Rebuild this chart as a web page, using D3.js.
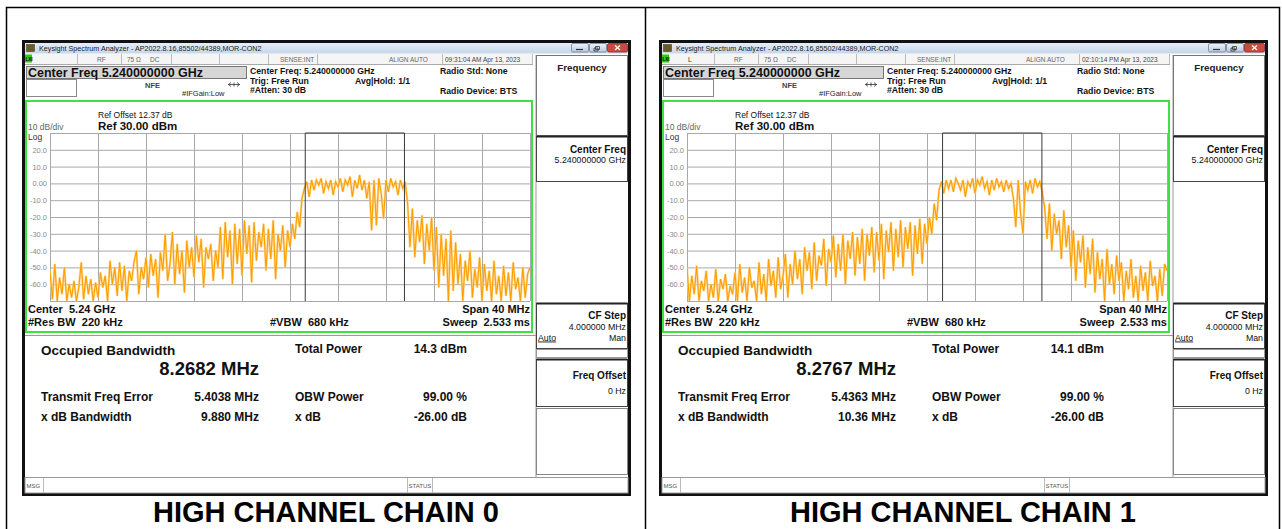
<!DOCTYPE html>
<html>
<head>
<meta charset="utf-8">
<script src="https://cdn.jsdelivr.net/npm/d3@7"></script>
<style>
  body { margin: 0; background: #fff; }
  svg { display: block; font-family: "Liberation Sans", Arial, sans-serif; }
  text { white-space: pre; }
</style>
</head>
<body>
<svg id="chart" width="1282" height="529"></svg>
<script>
/* global d3 */

const centerMHz = 5240;
const spanMHz = 40;
const chainTitles = ["HIGH CHANNEL CHAIN 0", "HIGH CHANNEL CHAIN 1"];
const timeStamps = ["09:31:04 AM Apr 13, 2023", "02:10:14 PM Apr 13, 2023"];
const statusFlags = ["", "L"];
const occupiedBw = ["8.2682", "8.2767"];      // MHz
const totalPower = ["14.3", "14.1"];          // dBm
const txFreqError = ["5.4038", "5.4363"];     // MHz
const xdbBandwidth = ["9.880", "10.36"];      // MHz
const yTickValues = [30, 20, 10, 0, -10, -20, -30, -40, -50, -60, -70];
const yTickLabels = ["", "20.0", "10.0", "0.00", "-10.0", "-20.0", "-30.0", "-40.0", "-50.0", "-60.0", ""];

// trace levels in dBm, 201 points across the 40 MHz span
const traceChain0 = [
  -52,-69,-48,-70,-56,-66,-50,-70,-60,-68,
  -58,-70,-62,-47,-69,-55,-66,-57,-70,-59,
  -68,-53,-62,-55,-70,-46,-60,-50,-67,-47,
  -64,-49,-70,-52,-58,-47,-40,-66,-50,-57,
  -44,-62,-42,-55,-45,-68,-41,-52,-30,-58,
  -48,-29,-60,-36,-54,-40,-65,-34,-50,-38,
  -56,-31,-47,-33,-62,-38,-45,-36,-58,-40,
  -50,-26,-57,-23,-44,-28,-60,-24,-48,-27,
  -55,-22,-42,-25,-59,-23,-46,-29,-38,-24,
  -52,-27,-45,-22,-57,-30,-40,-25,-50,-28,
  -38,-24,-33,-17,-26,-9,-3,1,-8,2,
  -4,2,-1,3,-6,1,-3,2,-7,1,
  -2,3,-5,2,-1,4,-8,2,-3,5,
  -4,2,-9,1,-28,2,-25,3,-6,-21,
  2,-5,3,-2,1,-7,2,-3,1,-12,
  -38,-15,-44,-22,-35,-19,-48,-24,-40,-20,
  -52,-26,-62,-30,-55,-33,-70,-28,-64,-35,
  -60,-42,-70,-46,-58,-40,-68,-51,-62,-44,
  -70,-48,-64,-52,-70,-46,-66,-55,-70,-49,
  -67,-53,-70,-47,-63,-56,-70,-50,-68,-54,
  -50
];
const traceChain1 = [
  -50,-70,-55,-66,-49,-70,-58,-64,-52,-70,
  -60,-68,-51,-70,-57,-63,-54,-70,-61,-66,
  -53,-70,-48,-65,-56,-70,-50,-62,-58,-70,
  -47,-66,-54,-70,-45,-61,-52,-68,-44,-63,
  -55,-42,-68,-48,-60,-40,-57,-45,-66,-38,
  -52,-41,-63,-35,-58,-43,-49,-33,-61,-39,
  -47,-31,-56,-36,-52,-30,-60,-34,-45,-29,
  -55,-32,-48,-27,-58,-30,-43,-26,-53,-29,
  -46,-24,-57,-28,-41,-23,-52,-27,-44,-22,
  -50,-26,-39,-23,-55,-25,-42,-21,-48,-24,
  -36,-20,-30,-12,-22,-4,1,-6,2,-3,
  2,-5,3,0,-4,2,-8,1,-2,3,
  -6,2,-1,4,-3,1,-7,2,-4,3,
  -2,1,-5,2,-3,0,-9,-26,2,-18,
  -30,1,-4,2,-6,3,-2,1,-5,-14,
  -33,-12,-40,-18,-30,-22,-45,-16,-38,-25,
  -50,-28,-58,-34,-47,-31,-62,-38,-54,-33,
  -65,-41,-57,-45,-70,-39,-60,-48,-66,-43,
  -58,-47,-70,-52,-63,-45,-68,-55,-70,-49,
  -64,-53,-70,-46,-61,-55,-70,-51,-67,-48,
  -52
];
const traces = [traceChain0, traceChain1];

const svg = d3.select("#chart");

// page table lines
svg.append("path")
  .attr("d", "M6.5,529V7.5H1279.5V529M645.5,7.5V529")
  .attr("fill", "none").attr("stroke", "#000").attr("stroke-width", 1.5);

const defs = svg.append("defs");
let tg = defs.append("linearGradient").attr("id", "titleGrad").attr("x1", 0).attr("y1", 0).attr("x2", 0).attr("y2", 1);
tg.append("stop").attr("offset", "0%").attr("stop-color", "#e6eef8");
tg.append("stop").attr("offset", "100%").attr("stop-color", "#c6d5ea");
let bg = defs.append("linearGradient").attr("id", "btnGrad").attr("x1", 0).attr("y1", 0).attr("x2", 0).attr("y2", 1);
bg.append("stop").attr("offset", "0%").attr("stop-color", "#eef3fa");
bg.append("stop").attr("offset", "100%").attr("stop-color", "#b9c9e0");

const x = d3.scaleLinear().domain([centerMHz - spanMHz / 2, centerMHz + spanMHz / 2]).range([50, 530]);
const y = d3.scaleLinear().domain([-70, 30]).range([301, 133]);

let label = (g, s, px, py, size, weight, fill, anchor) => g.append("text")
  .attr("x", px).attr("y", py)
  .attr("font-size", size)
  .attr("font-weight", weight || "normal")
  .attr("fill", fill || "#111")
  .attr("text-anchor", anchor || "start")
  .text(s);

let drawWindow = (k) => {
  let g = svg.append("g").attr("transform", `translate(${k * 637},0)`);

  // window body + title bar
  g.append("rect").attr("x", 23.5).attr("y", 41.5).attr("width", 606).attr("height", 453)
    .attr("fill", "#fff").attr("stroke", "#111").attr("stroke-width", 3);
  g.append("rect").attr("x", 25).attr("y", 43).attr("width", 603).attr("height", 10.5).attr("fill", "url(#titleGrad)");
  g.append("rect").attr("x", 26.5).attr("y", 44.5).attr("width", 8).attr("height", 7).attr("fill", "#6a5a24").attr("stroke", "#3a3010").attr("stroke-width", 0.5);
  label(g, "Keysight Spectrum Analyzer - AP2022.8.16,85502/44389,MOR-CON2", 39, 50.8, 7.2, "normal", "#222");
  // window buttons
  [571, 589].forEach(bx => {
    g.append("rect").attr("x", bx + 0.5).attr("y", 43.5).attr("width", 17).attr("height", 8.5).attr("rx", 1.5)
      .attr("fill", "url(#btnGrad)").attr("stroke", "#6d7d96").attr("stroke-width", 0.8);
  });
  g.append("path").attr("d", "M576,49.5H583").attr("stroke", "#333").attr("stroke-width", 1.2);
  g.append("path").attr("d", "M595.5,46.5h4v3h-4zM594,48h4v3h-4z").attr("fill", "none").attr("stroke", "#333").attr("stroke-width", 0.8);
  g.append("rect").attr("x", 607.5).attr("y", 43.5).attr("width", 20).attr("height", 8.5).attr("rx", 1.5)
    .attr("fill", "#c94a3e").attr("stroke", "#8a2b22").attr("stroke-width", 0.8);
  g.append("path").attr("d", "M615,45.5l5,4.5M620,45.5l-5,4.5").attr("stroke", "#fff").attr("stroke-width", 1.3);

  // status row
  g.append("rect").attr("x", 25).attr("y", 54).attr("width", 508).attr("height", 10).attr("fill", "#f5f5f5");
  g.append("path").attr("d", "M25,64.5H533").attr("stroke", "#aaa");
  [77, 121, 171, 219, 268, 317, 442, 532].forEach(sx => {
    g.append("path").attr("d", `M${sx + 0.5},54V64`).attr("stroke", "#bbb");
  });
  g.append("rect").attr("x", 25).attr("y", 54.5).attr("width", 7).attr("height", 8).attr("fill", "#33cc00");
  label(g, "LXI", 25.4, 61, 4.6, "bold", "#000");
  label(g, statusFlags[k], 51, 61.5, 7, "normal", "#8a1a1a");
  label(g, "RF", 97, 61.5, 6.5, "normal", "#666");
  label(g, "75 Ω", 127, 61.5, 6.5, "normal", "#666");
  label(g, "DC", 150, 61.5, 6.5, "normal", "#666");
  label(g, "SENSE:INT", 280, 61.5, 6.5, "normal", "#666");
  label(g, "ALIGN AUTO", 389, 61.5, 6.5, "normal", "#666");
  label(g, timeStamps[k], 445, 61.5, 6.5, "normal", "#444");

  // center freq banner
  g.append("rect").attr("x", 26.5).attr("y", 66.5).attr("width", 220).attr("height", 12)
    .attr("fill", "#d6d6d6").attr("stroke", "#777");
  label(g, "Center Freq 5.240000000 GHz", 28, 76.8, 12.5, "bold", "#111");
  g.append("rect").attr("x", 26.5).attr("y", 79.5).attr("width", 50).attr("height", 17)
    .attr("fill", "#fff").attr("stroke", "#888");
  label(g, "NFE", 145, 87.5, 7.5, "bold", "#444");
  label(g, "#IFGain:Low", 182, 96, 7.5, "normal", "#222");
  g.append("path").attr("d", "M228,84.5h12M231,82.5l-2.5,2 2.5,2M237,82.5l2.5,2-2.5,2M234,82.5v4")
    .attr("fill", "none").attr("stroke", "#333").attr("stroke-width", 0.8);

  label(g, "Center Freq: 5.240000000 GHz", 250, 73.5, 8.7, "bold");
  label(g, "Trig: Free Run", 250, 83.5, 8.7, "bold");
  label(g, "#Atten: 30 dB", 250, 93, 8.7, "bold");
  label(g, "Avg|Hold: 1/1", 355, 83.5, 8.7, "bold");
  label(g, "Radio Std: None", 440, 74, 8.7, "bold");
  label(g, "Radio Device: BTS", 440, 93.5, 8.7, "bold");

  // plot frame
  g.append("rect").attr("x", 26).attr("y", 101).attr("width", 506).attr("height", 231)
    .attr("fill", "#fff").attr("stroke", "#3ee23e").attr("stroke-width", 2);

  // grid through axes
  let yAxis = g.append("g").attr("transform", "translate(50,0)")
    .call(d3.axisLeft(y).tickValues(yTickValues).tickSize(-480).tickPadding(3)
      .tickFormat((v, i) => yTickLabels[i]));
  let xAxis = g.append("g").attr("transform", "translate(0,301)")
    .call(d3.axisBottom(x).tickValues(d3.range(centerMHz - spanMHz / 2, centerMHz + spanMHz / 2 + 1, 4))
      .tickSize(-168).tickFormat(""));
  [yAxis, xAxis].forEach(a => {
    a.select(".domain").remove();
    a.selectAll("line").attr("stroke", "#a9a9a9");
  });
  yAxis.selectAll("text").attr("fill", "#8a8a8a").attr("font-size", 7.5)
    .attr("font-family", "Liberation Sans, Arial, sans-serif");

  // trace: soft halo underneath, then the trace itself
  g.append("clipPath").attr("id", "plotClip" + k)
    .append("rect").attr("x", 50).attr("y", 132).attr("width", 480).attr("height", 170);
  let data = traces[k];
  let step = spanMHz / (data.length - 1);
  let line = d3.line()
    .x((d, i) => x(centerMHz - spanMHz / 2 + i * step))
    .y(d => y(d));
  g.append("path").datum(data)
    .attr("clip-path", `url(#plotClip${k})`)
    .attr("d", line)
    .attr("fill", "none").attr("stroke", "#ffd48e").attr("stroke-width", 2.4)
    .attr("stroke-opacity", 0.85);
  g.append("path").datum(data)
    .attr("clip-path", `url(#plotClip${k})`)
    .attr("d", line)
    .attr("fill", "none").attr("stroke", "#ffa000").attr("stroke-width", 1.1);

  // occupied bandwidth markers
  let mid = centerMHz + parseFloat(txFreqError[k]);
  let half = parseFloat(occupiedBw[k]) / 2;
  let lo = x(mid - half), hi = x(mid + half);
  g.append("path").attr("d", `M${lo},${y(-70)}V${y(30)}H${hi}V${y(-70)}`)
    .attr("fill", "none").attr("stroke", "#3a3a3a").attr("stroke-width", 1);

  // plot annotations
  label(g, "Ref Offset 12.37 dB", 98, 118, 8.5);
  label(g, "Ref 30.00 dBm", 98, 130, 11.5, "bold");
  label(g, "10 dB/div", 28, 130, 8.5, "normal", "#666");
  label(g, "Log", 28, 139.5, 8.5, "normal", "#333");
  label(g, "Center  5.24 GHz", 28, 312.5, 11, "bold");
  label(g, "#Res BW  220 kHz", 28, 325.5, 11, "bold");
  label(g, "#VBW  680 kHz", 270, 325.5, 11, "bold");
  label(g, "Span 40 MHz", 530, 312.5, 11, "bold", "#111", "end");
  label(g, "Sweep  2.533 ms", 530, 325.5, 11, "bold", "#111", "end");

  // results panel
  g.append("path").attr("d", "M25,335.5H536").attr("stroke", "#999");
  label(g, "Occupied Bandwidth", 41, 354.5, 13.5, "bold");
  label(g, `${occupiedBw[k]} MHz`, 259, 374.5, 18.5, "bold", "#111", "end");
  label(g, "Total Power", 295, 353, 12, "bold");
  label(g, `${totalPower[k]} dBm`, 467, 353, 12, "bold", "#111", "end");
  label(g, "Transmit Freq Error", 41, 401, 12, "bold");
  label(g, `${txFreqError[k]} MHz`, 259, 401, 12, "bold", "#111", "end");
  label(g, "OBW Power", 295, 401, 12, "bold");
  label(g, "99.00 %", 467, 401, 12, "bold", "#111", "end");
  label(g, "x dB Bandwidth", 41, 420.5, 12, "bold");
  label(g, `${xdbBandwidth[k]} MHz`, 259, 420.5, 12, "bold", "#111", "end");
  label(g, "x dB", 295, 420.5, 12, "bold");
  label(g, "-26.00 dB", 467, 420.5, 12, "bold", "#111", "end");

  // softkey panel
  g.append("path").attr("d", "M536,55V477").attr("stroke", "#999");
  g.append("rect").attr("x", 536.5).attr("y", 55.5).attr("width", 91).attr("height", 80)
    .attr("fill", "#fff").attr("stroke", "#777");
  label(g, "Frequency", 582, 70.5, 9.8, "bold", "#222", "middle");
  [[136.5, 45], [303.5, 45], [359.5, 47]].forEach(([by, bh]) => {
    g.append("rect").attr("x", 536.5).attr("y", by).attr("width", 91).attr("height", bh)
      .attr("fill", "#fff").attr("stroke", "#444");
    g.append("path").attr("d", `M536.5,${by}H627.5`).attr("stroke", "#222").attr("stroke-width", 2);
  });
  g.append("rect").attr("x", 536.5).attr("y", 349.5).attr("width", 91).attr("height", 8)
    .attr("fill", "#fff").attr("stroke", "#999");
  g.append("rect").attr("x", 536.5).attr("y", 408.5).attr("width", 91).attr("height", 66)
    .attr("fill", "#fff").attr("stroke", "#888");
  label(g, "Center Freq", 626, 153, 10, "bold", "#111", "end");
  label(g, "5.240000000 GHz", 626, 163, 8.8, "normal", "#111", "end");
  label(g, "CF Step", 626, 319, 10, "bold", "#111", "end");
  label(g, "4.000000 MHz", 626, 330, 8.8, "normal", "#111", "end");
  label(g, "Auto", 538, 340.5, 8.8, "normal").attr("text-decoration", "underline");
  label(g, "Man", 626, 340.5, 8.8, "normal", "#111", "end");
  label(g, "Freq Offset", 626, 379, 10, "bold", "#111", "end");
  label(g, "0 Hz", 626, 394, 8.8, "normal", "#111", "end");

  // message bar
  g.append("rect").attr("x", 25).attr("y", 477.5).attr("width", 603).attr("height", 15.5)
    .attr("fill", "#fff").attr("stroke", "#999");
  [43, 407, 432].forEach(sx => g.append("path").attr("d", `M${sx + 0.5},478V493`).attr("stroke", "#bbb"));
  label(g, "MSG", 26.5, 488, 6, "normal", "#555");
  label(g, "STATUS", 408.5, 488, 6, "normal", "#555");

  // caption under the screenshot
  label(g, chainTitles[k], 326, 522, 29, "bold", "#000", "middle");
};

[0, 1].forEach(drawWindow);
</script>
</body>
</html>
